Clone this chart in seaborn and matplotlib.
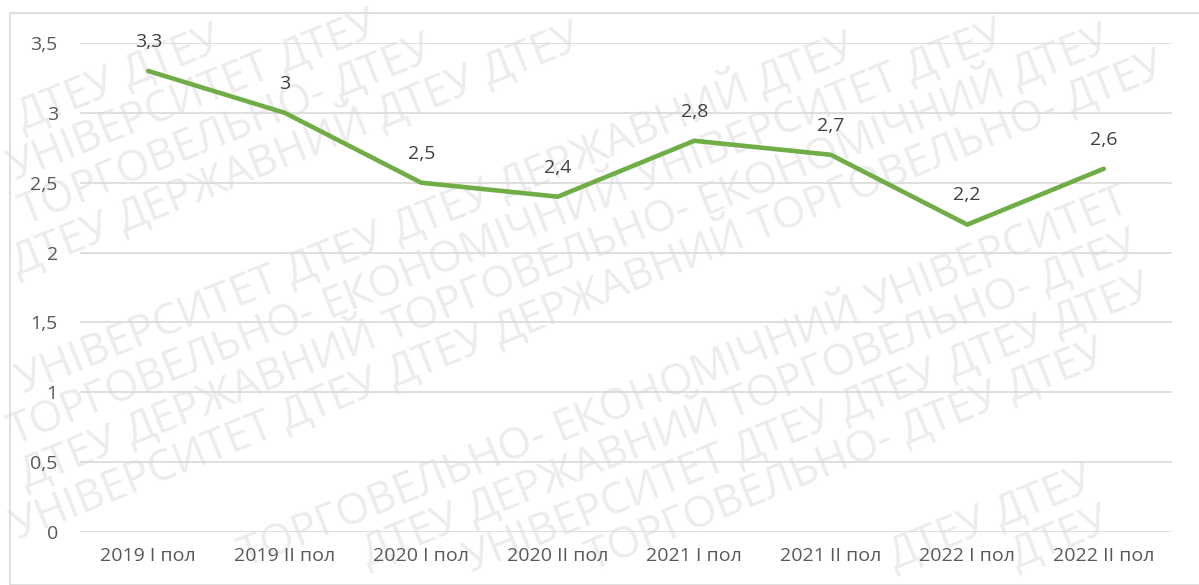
import math
import matplotlib
matplotlib.use("Agg")
import matplotlib.pyplot as plt
import seaborn as sns
import pandas as pd
from matplotlib.patches import Rectangle

periods = ["2019 I пол", "2019 II пол", "2020 I пол", "2020 II пол",
           "2021 I пол", "2021 II пол", "2022 I пол", "2022 II пол"]
values = [3.3, 3.0, 2.5, 2.4, 2.8, 2.7, 2.2, 2.6]
value_labels = ["3,3", "3", "2,5", "2,4", "2,8", "2,7", "2,2", "2,6"]
y_ticks = [0, 0.5, 1, 1.5, 2, 2.5, 3, 3.5]
y_tick_labels = ["0", "0,5", "1", "1,5", "2", "2,5", "3", "3,5"]
watermark_words = ["ДТЕУ", "ДЕРЖАВНИЙ", "ТОРГОВЕЛЬНО-", "ЕКОНОМІЧНИЙ", "УНІВЕРСИТЕТ", "ДТЕУ"]

sns.set_theme(style="white")
plt.rcParams['font.family'] = ['Open Sans', 'DejaVu Sans']

W, H = 1199, 585
fig = plt.figure(figsize=(W / 100, H / 100), dpi=100)
fig.patch.set_facecolor("white")

# chart border
fig.patches.append(Rectangle((10 / W, 0), 1.2, 1 - 13 / H, transform=fig.transFigure,
                             fill=False, edgecolor="#d9d9d9", linewidth=1.2, zorder=0))

# ---- watermark (words tiled along diagonal rows, only those fully inside) ----
renderer = fig.canvas.get_renderer()
wm_fs = 31
wm_color = "#ececec"
ang = 22
ca, sa = math.cos(math.radians(ang)), math.sin(math.radians(ang))

def width_of(word):
    t = fig.text(0, 0, word, fontsize=wm_fs)
    w = t.get_window_extent(renderer).width
    t.remove()
    return w

space_w = width_of("Д Д") - 2 * width_of("Д")
widths = {w: width_of(w) for w in set(watermark_words)}

def try_place(word, px, py):
    t = fig.text(px / W, py / H, word, rotation=ang, rotation_mode="anchor",
                 fontsize=wm_fs, color=wm_color, ha="left", va="baseline", zorder=-1)
    bb = t.get_window_extent(renderer)
    if bb.x0 < 1 or bb.y0 < 1 or bb.x1 > W - 1 or bb.y1 > H - 1:
        t.remove()
        return False
    return True

row = 0
y_start = -700
while y_start < 620:
    n = len(watermark_words)
    k0 = (row * 2) % n
    px, py = -520.0 + (row % 4) * 45, float(y_start)
    i = 0
    while px < W + 50:
        word = watermark_words[(k0 + i) % n]
        if try_place(word, px, py):
            step = widths[word] + space_w
            i += 1
        elif try_place("ДТЕУ", px, py):
            step = widths["ДТЕУ"] + space_w
        else:
            step = 20
        px += step * ca
        py += step * sa
    y_start += 66
    row += 1

ax = fig.add_axes([80 / W, 1 - 532 / H, (1172 - 80) / W, (532 - 43) / H])
ax.set_facecolor("none")

df = pd.DataFrame({"period": periods, "value": values})
sns.lineplot(data=df, x="period", y="value", sort=False, ax=ax,
             color="#70AD47", linewidth=3.3, zorder=3)

ax.set_xlim(-0.5, len(periods) - 0.5)
ax.set_ylim(0, 3.5)
ax.set_yticks(y_ticks)
ax.set_yticklabels(y_tick_labels)
ax.set_xticks(range(len(periods)))
ax.set_xticklabels(periods)
ax.set_xlabel("")
ax.set_ylabel("")
ax.grid(axis="y", color="#d9d9d9", linewidth=1.2)
ax.grid(axis="x", visible=False)
ax.set_axisbelow(True)
for s in ax.spines.values():
    s.set_visible(False)
ax.tick_params(axis="y", length=0, pad=16, labelsize=14, labelcolor="#595959")
ax.tick_params(axis="x", length=0, pad=11, labelsize=14, labelcolor="#595959")

for i, (v, lab) in enumerate(zip(values, value_labels)):
    ax.annotate(lab, (i, v), xytext=(0, 21), textcoords="offset points",
                ha="center", va="center", fontsize=14, color="#404040", zorder=4)

fig.savefig("out.png", dpi=100, facecolor="white")
